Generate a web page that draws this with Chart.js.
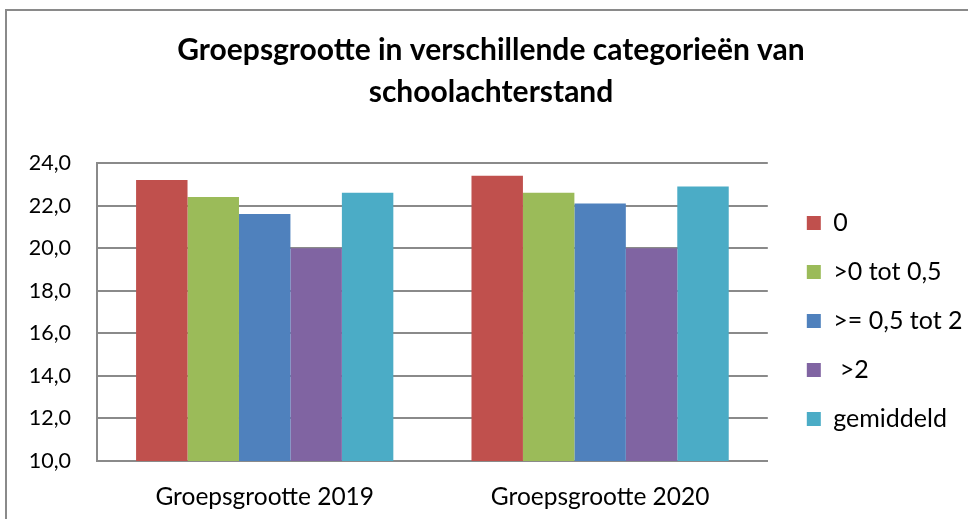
<!DOCTYPE html>
<html><head><meta charset="utf-8">
<script src="https://cdn.jsdelivr.net/npm/chart.js@4/dist/chart.umd.min.js"></script>
<style>
html,body{margin:0;padding:0;background:#fff;overflow:hidden}
#frame{position:absolute;left:5px;top:9px;width:1000px;height:600px;border:2px solid #8a8a8a;box-sizing:border-box}
#wrap{position:absolute;left:0;top:0;width:968px;height:519px}
</style></head>
<body>
<div id="frame"></div>
<div id="wrap"><canvas id="c" width="968" height="519"></canvas></div>
<script>
const categories = ['Groepsgrootte 2019', 'Groepsgrootte 2020'];
const seriesNames = ['0', '>0 tot 0,5', '>= 0,5 tot 2', ' >2', 'gemiddeld'];
const s0 = [23.2, 23.4];
const s1 = [22.4, 22.6];
const s2 = [21.6, 22.1];
const s3 = [20.0, 20.0];
const s4 = [22.6, 22.9];
const yTicks = [10, 12, 14, 16, 18, 20, 22, 24];
const colors = ['#C0504D', '#9BBB59', '#4F81BD', '#8064A2', '#4BACC6'];

const font = "Lato, 'Liberation Sans', sans-serif";
const values = [s0, s1, s2, s3, s4];

const legendShift = {
  id: 'legendShift',
  afterLayout(chart) {
    const l = chart.legend; const dx = 15, dy = 9;
    l.left += dx; l.right += dx; l.top += dy; l.bottom += dy;
  }
};

new Chart(document.getElementById('c'), {
  type: 'bar',
  data: {
    labels: categories,
    datasets: values.map((v, i) => ({
      label: seriesNames[i], data: v, backgroundColor: colors[i],
      borderWidth: 0, barPercentage: 1, categoryPercentage: 0.767
    }))
  },
  plugins: [legendShift],
  options: {
    responsive: false, animation: false,
    layout: { padding: { left: 24.5, right: 10.5, top: 29, bottom: 8 } },
    plugins: {
      title: { display: true, text: ['Groepsgrootte in verschillende categorieën van', 'schoolachterstand'],
        color: '#000', font: { family: font, size: 30, weight: 'bold', lineHeight: 1.4 }, padding: { top: 0, bottom: 50 } },
      legend: { position: 'right', fullSize: false,
        labels: { color: '#000', boxWidth: 14, boxHeight: 14, padding: 24, font: { family: font, size: 25 } } },
      tooltip: { enabled: false }
    },
    scales: {
      x: { grid: { display: false, drawTicks: false }, border: { color: '#8a8a8a', width: 2 },
        afterFit: s => { s.height = 50; },
        ticks: { color: '#000', font: { family: font, size: 24.5 }, padding: 21 } },
      y: { min: 10, max: 24, afterBuildTicks: s => { s.ticks = yTicks.map(v => ({ value: v })); },
        afterFit: s => { s.width = 72.5; },
        grid: { color: '#8a8a8a', lineWidth: 2, drawTicks: false }, border: { color: '#8a8a8a', width: 2 },
        ticks: { color: '#000', font: { family: font, size: 21.5 }, padding: 26,
          callback: v => v.toFixed(1).replace('.', ',') } }
    }
  }
});
</script>
</body></html>
